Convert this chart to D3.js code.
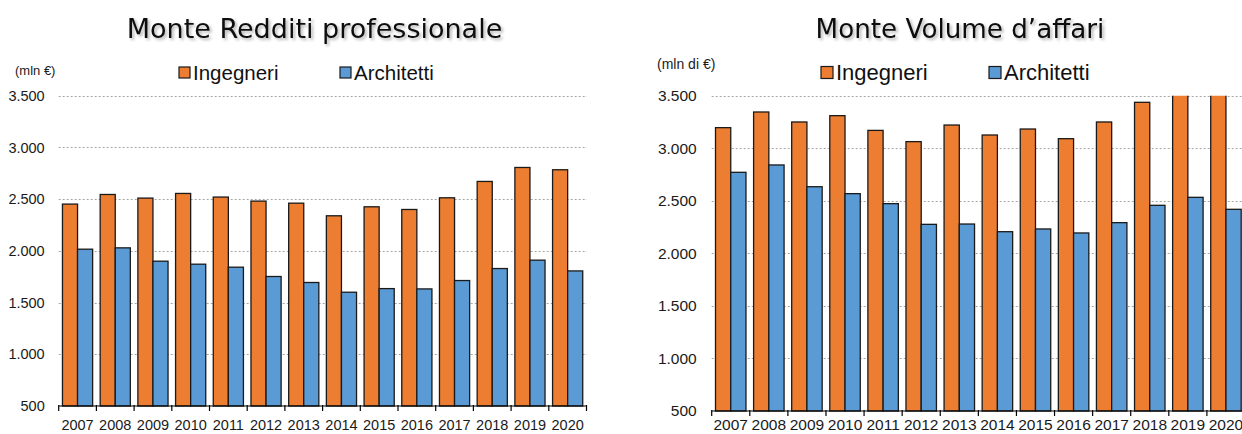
<!DOCTYPE html>
<html>
<head>
<meta charset="utf-8">
<script src="https://cdn.jsdelivr.net/npm/d3@7"></script>
<style>
  html, body { margin: 0; padding: 0; background: #fff; }
  svg { display: block; }
</style>
</head>
<body>
<script>
// ---------- DATA ----------
const years = ["2007","2008","2009","2010","2011","2012","2013","2014","2015","2016","2017","2018","2019","2020"];
const seriesNames = ["Ingegneri", "Architetti"];
const redditiIngegneri  = [2452, 2545, 2510, 2555, 2520, 2481, 2461, 2339, 2426, 2400, 2513, 2671, 2806, 2784];
const redditiArchitetti = [2016, 2029, 1900, 1871, 1842, 1752, 1694, 1600, 1635, 1632, 1713, 1829, 1910, 1806];
const volumeIngegneri   = [3196, 3345, 3250, 3310, 3170, 3063, 3221, 3126, 3183, 3091, 3250, 3437, 3650, 3620];
const volumeArchitetti  = [2771, 2841, 2634, 2568, 2473, 2276, 2279, 2206, 2232, 2194, 2292, 2457, 2533, 2419];
const yTickValues = [500, 1000, 1500, 2000, 2500, 3000, 3500];
const titles = ["Monte Redditi professionale", "Monte Volume d\u2019affari"];
const units = ["(mln \u20ac)", "(mln di \u20ac)"];

const colors = { "Ingegneri": "#ED7D31", "Architetti": "#5B9BD5" };

const W = 1242, H = 434;
const svg = d3.select("body").append("svg").attr("width", W).attr("height", H);

const defs = svg.append("defs");
const f = defs.append("filter").attr("id", "tshadow").attr("x", "-5%").attr("y", "-30%").attr("width", "115%").attr("height", "170%");
f.append("feDropShadow").attr("dx", 2).attr("dy", 2).attr("stdDeviation", 1.4)
  .attr("flood-color", "#000").attr("flood-opacity", 0.3);

const loc = d3.formatLocale({ decimal: ",", thousands: ".", grouping: [3], currency: ["", "\u20ac"] });
const fmt = loc.format(",d");

function drawChart(cfg) {
  const g = svg.append("g");
  const x = d3.scaleBand().domain(years).range([cfg.x0, cfg.x1]).paddingInner(0).paddingOuter(0);
  const xs = d3.scaleBand().domain(seriesNames).range([0, x.bandwidth()]).paddingInner(0).paddingOuter(0.25);
  const y = d3.scaleLinear().domain([500, 3500]).range([cfg.yBottom, cfg.yTop]);

  const clipId = "clip" + cfg.id;
  defs.append("clipPath").attr("id", clipId).append("rect")
    .attr("x", cfg.x0 - 2).attr("y", y(3500)).attr("width", cfg.x1 - cfg.x0 + 4).attr("height", cfg.yBottom - y(3500) + 1);

  // gridlines
  g.append("g").selectAll("line").data(yTickValues.filter(d => d > 500)).join("line")
    .attr("x1", cfg.x0).attr("x2", cfg.gridEnd)
    .attr("y1", d => Math.round(y(d)) + 0.5).attr("y2", d => Math.round(y(d)) + 0.5)
    .attr("stroke", "#a6a6a6").attr("stroke-width", 1).attr("stroke-dasharray", "2,2");

  // y labels
  const ya = d3.axisLeft(y).tickValues(yTickValues).tickSize(0).tickPadding(cfg.yLabelPad).tickFormat(fmt);
  const yg = g.append("g").attr("transform", `translate(${cfg.x0},0)`).call(ya);
  yg.select(".domain").remove();
  yg.selectAll("text").attr("font-family", "Liberation Sans, Arial, sans-serif")
    .attr("font-size", cfg.tickFont).attr("fill", "#1a1a1a");

  // bars
  const data = years.map((yr, i) => ({ yr, vals: [
    { s: "Ingegneri", v: cfg.ing[i] }, { s: "Architetti", v: cfg.arch[i] } ] }));
  const bg = g.append("g").attr("clip-path", `url(#${clipId})`);
  bg.selectAll("g").data(data).join("g")
    .attr("transform", d => `translate(${x(d.yr)},0)`)
    .selectAll("rect").data(d => d.vals).join("rect")
    .attr("x", d => xs(d.s)).attr("width", xs.bandwidth())
    .attr("y", d => y(d.v)).attr("height", d => y(500) - y(d.v))
    .attr("fill", d => colors[d.s]).attr("stroke", "#1a1a1a").attr("stroke-width", 1.3);

  // x axis line and ticks
  g.append("line").attr("x1", cfg.x0).attr("x2", Math.min(cfg.x1, W))
    .attr("y1", cfg.yBottom).attr("y2", cfg.yBottom).attr("stroke", "#000").attr("stroke-width", 1.2);
  const tickPos = years.map(d => x(d)).concat([cfg.x1]);
  g.append("g").selectAll("line").data(tickPos).join("line")
    .attr("x1", d => d).attr("x2", d => d)
    .attr("y1", cfg.yBottom - 1).attr("y2", cfg.yBottom + 5).attr("stroke", "#000").attr("stroke-width", 1.2);

  // x labels
  g.append("g").selectAll("text").data(years).join("text")
    .attr("x", d => x(d) + x.bandwidth() / 2).attr("y", cfg.xLabelY)
    .attr("text-anchor", "middle").attr("font-family", "Liberation Sans, Arial, sans-serif")
    .attr("font-size", cfg.xFont).attr("fill", "#1a1a1a").text(d => d);

  // title
  g.append("text").attr("x", cfg.titleX).attr("y", 38).attr("text-anchor", "middle")
    .attr("font-family", "DejaVu Sans, Verdana, sans-serif").attr("font-size", cfg.titleFont)
    .attr("fill", "#111").attr("filter", "url(#tshadow)").text(cfg.title);

  // units
  g.append("text").attr("x", cfg.unitX).attr("y", cfg.unitY).attr("dominant-baseline", "middle")
    .attr("font-family", "Liberation Sans, Arial, sans-serif").attr("font-size", cfg.unitFont)
    .attr("fill", "#1a1a1a").text(cfg.unit);

  // legend
  const lg = g.append("g");
  seriesNames.forEach((s, i) => {
    lg.append("rect").attr("x", cfg.legX[i]).attr("y", cfg.legSqY).attr("width", cfg.legSq).attr("height", cfg.legSq)
      .attr("fill", colors[s]).attr("stroke", "#1a1a1a").attr("stroke-width", 1.2);
    lg.append("text").attr("x", cfg.legX[i] + cfg.legSq + 3).attr("y", 80)
      .attr("font-family", "Liberation Sans, Arial, sans-serif").attr("font-size", cfg.legFont)
      .attr("fill", "#111").text(s);
  });
}

drawChart({
  id: "L", x0: 58.7, x1: 586.5, yTop: 95.7, yBottom: 406, gridEnd: 587,
  ing: redditiIngegneri, arch: redditiArchitetti,
  tickFont: 14.5, yLabelPad: 14, xFont: 14.5, xLabelY: 430,
  title: titles[0], titleX: 314.5, titleFont: 27,
  unit: units[0], unitX: 15, unitY: 71.5, unitFont: 13,
  legX: [179, 340], legSqY: 67, legSq: 11, legFont: 20.5
});

drawChart({
  id: "R", x0: 711.7, x1: 1245, yTop: 95.7, yBottom: 411, gridEnd: 1242,
  ing: volumeIngegneri, arch: volumeArchitetti,
  tickFont: 15.5, yLabelPad: 15, xFont: 15.5, xLabelY: 430,
  title: titles[1], titleX: 960, titleFont: 26.2,
  unit: units[1], unitX: 657, unitY: 65, unitFont: 14,
  legX: [821, 989], legSqY: 66.5, legSq: 12, legFont: 22
});
</script>
</body>
</html>
